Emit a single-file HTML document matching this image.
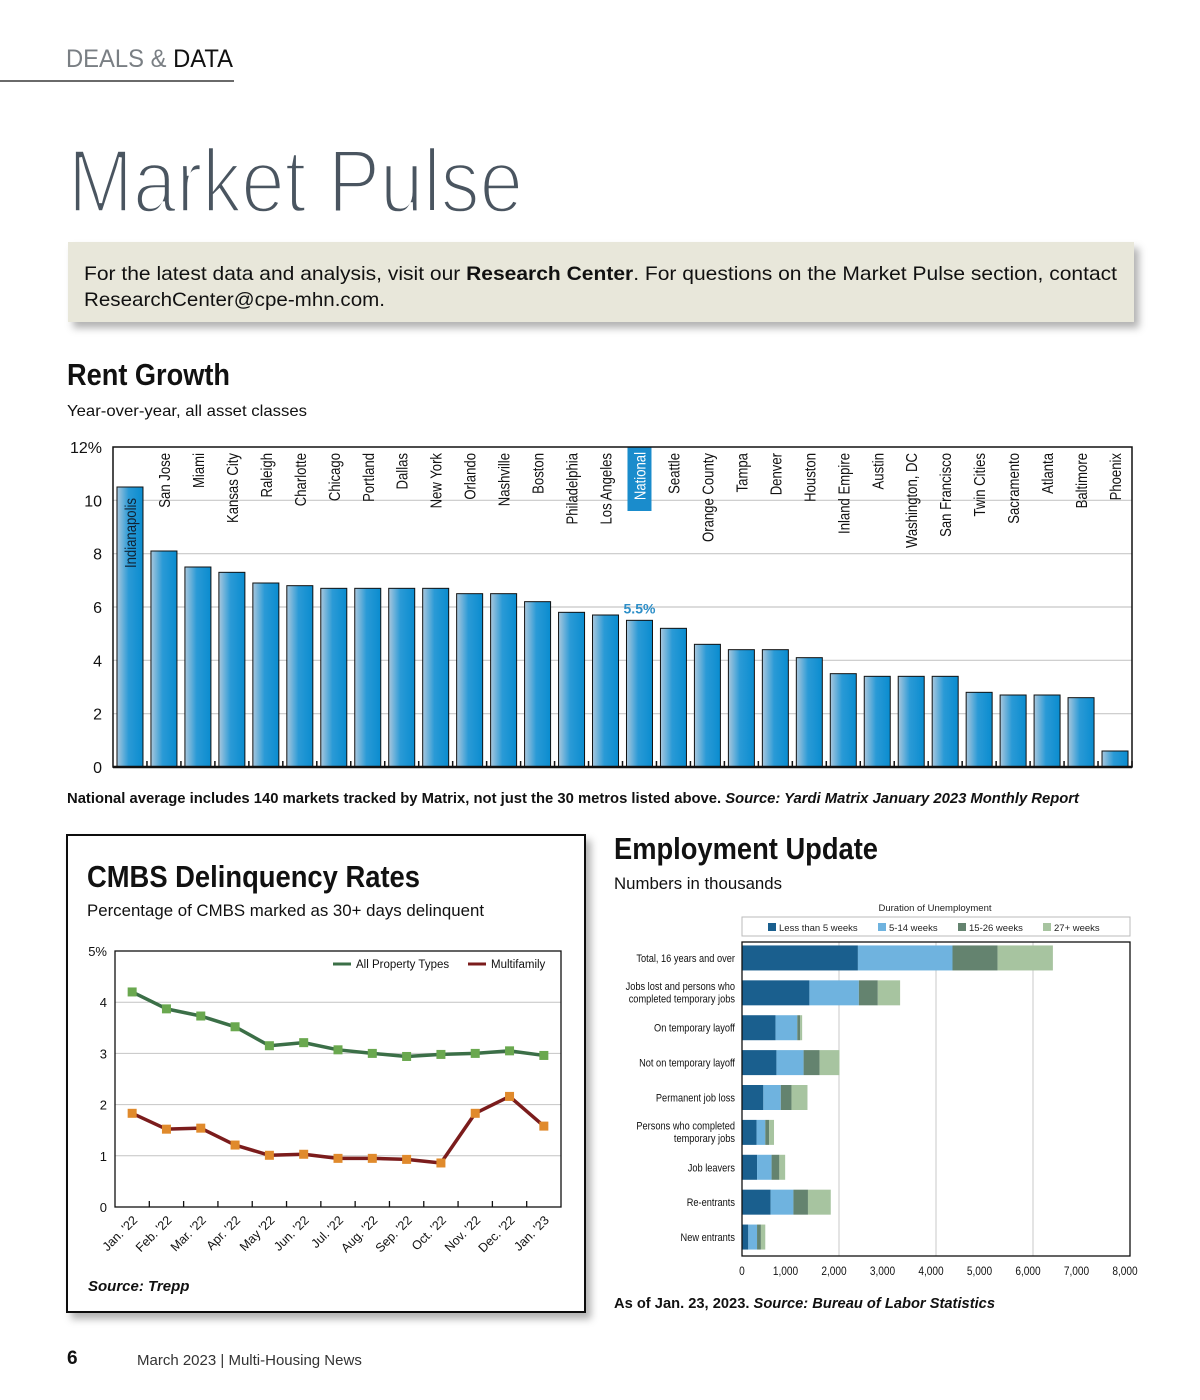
<!DOCTYPE html>
<html><head><meta charset="utf-8"><style>
html,body{margin:0;padding:0;background:#fff;width:1200px;height:1400px;overflow:hidden}
svg{display:block;font-family:"Liberation Sans",sans-serif}
</style></head><body>
<svg id="page" width="1200" height="1400" viewBox="0 0 1200 1400" xmlns="http://www.w3.org/2000/svg">
<defs>
<linearGradient id="barg" x1="0" x2="1" y1="0" y2="0">
<stop offset="0" stop-color="#a9c7dd"/><stop offset="0.45" stop-color="#2a9ad6"/><stop offset="1" stop-color="#0a8ccf"/>
</linearGradient>
<filter id="sh" x="-5%" y="-5%" width="115%" height="130%"><feDropShadow dx="5" dy="6" stdDeviation="4" flood-color="#000" flood-opacity="0.3"/></filter>
</defs>

<text x="66" y="67" font-size="25" fill="#7a7f84" textLength="167" lengthAdjust="spacingAndGlyphs">DEALS &amp; <tspan fill="#111">DATA</tspan></text>
<line x1="0" y1="81" x2="234" y2="81" stroke="#111" stroke-width="1.2"/>
<text x="68" y="212" font-size="90" fill="#4a5560" stroke="#fff" stroke-width="3.4" textLength="455" lengthAdjust="spacingAndGlyphs">Market Pulse</text>

<rect x="68" y="242" width="1066" height="80" fill="#e8e7da" filter="url(#sh)"/>
<text x="84" y="280" font-size="19.5" fill="#111" textLength="1033" lengthAdjust="spacingAndGlyphs">For the latest data and analysis, visit our <tspan font-weight="bold">Research Center</tspan>. For questions on the Market Pulse section, contact</text>
<text x="84" y="306" font-size="19.5" fill="#111" textLength="301" lengthAdjust="spacingAndGlyphs">ResearchCenter@cpe-mhn.com.</text>

<text x="67" y="385" font-size="31" font-weight="bold" fill="#111" textLength="163" lengthAdjust="spacingAndGlyphs">Rent Growth</text>
<text x="67" y="416" font-size="16" fill="#111" textLength="240" lengthAdjust="spacingAndGlyphs">Year-over-year, all asset classes</text>
<g id="rent"></g>
<text x="67" y="803" font-size="14.3" font-weight="bold" fill="#111" textLength="1012" lengthAdjust="spacingAndGlyphs">National average includes 140 markets tracked by Matrix, not just the 30 metros listed above. <tspan font-style="italic">Source: Yardi Matrix January 2023 Monthly Report</tspan></text>

<rect x="67" y="835" width="518" height="477" fill="#fff" stroke="#111" stroke-width="2" filter="url(#sh)"/>
<text x="87" y="887" font-size="31" font-weight="bold" fill="#111" textLength="333" lengthAdjust="spacingAndGlyphs">CMBS Delinquency Rates</text>
<text x="87" y="916" font-size="16.5" fill="#111" textLength="397" lengthAdjust="spacingAndGlyphs">Percentage of CMBS marked as 30+ days delinquent</text>
<g id="cmbs"></g>
<text x="88" y="1291" font-size="15" font-weight="bold" font-style="italic" fill="#111">Source: Trepp</text>

<text x="614" y="859" font-size="31" font-weight="bold" fill="#111" textLength="264" lengthAdjust="spacingAndGlyphs">Employment Update</text>
<text x="614" y="889" font-size="16.5" fill="#111" textLength="168" lengthAdjust="spacingAndGlyphs">Numbers in thousands</text>
<g id="emp"></g>
<text x="614" y="1308" font-size="14.5" font-weight="bold" fill="#111" textLength="381" lengthAdjust="spacingAndGlyphs">As of Jan. 23, 2023. <tspan font-style="italic">Source: Bureau of Labor Statistics</tspan></text>

<text x="67" y="1364" font-size="19" font-weight="bold" fill="#111">6</text>
<text x="137" y="1365" font-size="15" fill="#333">March 2023  |  Multi-Housing News</text>
</svg>
<script>
const NS='http://www.w3.org/2000/svg';
function mk(parent,tag,attrs,txt){const e=document.createElementNS(NS,tag);for(const k in attrs)e.setAttribute(k,attrs[k]);if(txt!==undefined)e.textContent=txt;parent.appendChild(e);return e;}
function condense(t,f){try{const L=t.getComputedTextLength();if(L>0){t.setAttribute('textLength',L*f);t.setAttribute('lengthAdjust','spacingAndGlyphs');}}catch(e){}}

// ---------- Rent growth data ----------
const rentCities=["Indianapolis","San Jose","Miami","Kansas City","Raleigh","Charlotte","Chicago","Portland","Dallas","New York","Orlando","Nashville","Boston","Philadelphia","Los Angeles","National","Seattle","Orange County","Tampa","Denver","Houston","Inland Empire","Austin","Washington, DC","San Francisco","Twin Cities","Sacramento","Atlanta","Baltimore","Phoenix"];
const rentValues=[10.5,8.1,7.5,7.3,6.9,6.8,6.7,6.7,6.7,6.7,6.5,6.5,6.2,5.8,5.7,5.5,5.2,4.6,4.4,4.4,4.1,3.5,3.4,3.4,3.4,2.8,2.7,2.7,2.6,0.6];
const rentTicks=[0,2,4,6,8,10,12];
const rentTickLabels=["0","2","4","6","8","10","12%"];

const R={l:113,r:1132,t:447,b:767,max:12};
const ry=v=>R.b-(v/R.max)*(R.b-R.t);
const rstep=(R.r-R.l)/rentCities.length;
const rx=i=>R.l+rstep*(i+0.5);
const rg=document.getElementById('rent');
rentTicks.forEach((t,i)=>{
  if(t>0&&t<12){const g=mk(rg,'line',{x1:R.l,x2:R.r,y1:ry(t),y2:ry(t),stroke:'#c8c8c8','stroke-width':1.2});
  
  }
  const tl=mk(rg,'text',{x:102,y:ry(t)+6,'font-size':16,'text-anchor':'end',fill:'#111'},rentTickLabels[i]);
  
  
});
rentValues.forEach((v,i)=>{
  const cx=rx(i),w=26,x=cx-w/2,y=ry(v);
  const b=mk(rg,'rect',{x:x,y:y,width:w,height:R.b-y,fill:'url(#barg)',stroke:'#111','stroke-width':1});
  
  
  const tk=mk(rg,'line',{x1:R.l+rstep*(i+1),x2:R.l+rstep*(i+1),y1:R.b,y2:R.b-6,stroke:'#111','stroke-width':1.5});
  
  
  const name=rentCities[i];
  let ty=453, fill='#111';
  if(i===0){ty=y+11;fill='#123';}
  if(name==='National'){
    const bx=mk(rg,'rect',{x:cx-12,y:R.t,width:24,height:64,fill:'#1a8ccc'});
    
    
    fill='#fff';ty=452;
    const vl=mk(rg,'text',{x:cx,y:y-7,'font-size':14,'font-weight':'bold','text-anchor':'middle',fill:'#2e8fc8'},v+'%');
    
    
  }
  const lt=mk(rg,'text',{x:cx+6,y:ty,'font-size':16,'text-anchor':'end',fill:fill,transform:`rotate(-90 ${cx+6} ${ty})`},name);
  
  
  condense(lt,0.82);
});
const rf=mk(rg,'path',{d:`M${R.l},${R.t}H${R.r}V${R.b}H${R.l}Z`,fill:'none',stroke:'#111','stroke-width':1.5});


const rb=mk(rg,'line',{x1:R.l,x2:R.r,y1:R.b,y2:R.b,stroke:'#111','stroke-width':2.5});



// ---------- CMBS data ----------
const cmbsMonths=["Jan. '22","Feb. '22","Mar. '22","Apr. '22","May '22","Jun. '22","Jul. '22","Aug. '22","Sep. '22","Oct. '22","Nov. '22","Dec. '22","Jan. '23"];
const cmbsAll=[4.2,3.87,3.73,3.52,3.15,3.21,3.07,3.0,2.94,2.98,3.0,3.05,2.96];
const cmbsMulti=[1.83,1.52,1.54,1.21,1.01,1.03,0.95,0.95,0.93,0.86,1.83,2.16,1.58];
const cmbsTicks=[0,1,2,3,4,5];
const cmbsTickLabels=["0","1","2","3","4","5%"];
const C={l:115,r:561,t:951,b:1207,max:5};
const cy=v=>C.b-(v/C.max)*(C.b-C.t);
const cstep=(C.r-C.l)/cmbsMonths.length;
const cx_=i=>C.l+cstep*(i+0.5);
const cg=document.getElementById('cmbs');
cmbsTicks.forEach((t,i)=>{
  if(t>0&&t<5){const g=mk(cg,'line',{x1:C.l,x2:C.r,y1:cy(t),y2:cy(t),stroke:'#c4c4c4','stroke-width':1});
  
  }
  const tl=mk(cg,'text',{x:107,y:cy(t)+5,'font-size':13,'text-anchor':'end',fill:'#111'},cmbsTickLabels[i]);
  
  
});
const cf=mk(cg,'rect',{x:C.l,y:C.t,width:C.r-C.l,height:C.b-C.t,fill:'none',stroke:'#111','stroke-width':1.3});


cmbsMonths.forEach((m,i)=>{
  if(i>0){const tk=mk(cg,'line',{x1:C.l+cstep*i,x2:C.l+cstep*i,y1:C.b,y2:C.b-6,stroke:'#111','stroke-width':1.3});
  
  }
  const x=cx_(i)+6,y=C.b+14;
  const t=mk(cg,'text',{x:x,y:y,'font-size':12.5,'text-anchor':'end',fill:'#111',transform:`rotate(-45 ${x} ${y})`},m);
  
  
});
function series(vals,lineC,markC,name){
  const p=mk(cg,'polyline',{points:vals.map((v,i)=>cx_(i)+','+cy(v)).join(' '),fill:'none',stroke:lineC,'stroke-width':3.5,'stroke-linejoin':'round'});
  
  
  vals.forEach((v,i)=>{const r=mk(cg,'rect',{x:cx_(i)-4.5,y:cy(v)-4.5,width:9,height:9,fill:markC});
    
    });
}
series(cmbsAll,'#3b6f47','#6aa84f','all-property-types');
series(cmbsMulti,'#7b1c1c','#e08a2c','multifamily');
[[333,'#3b6f47','All Property Types','legend-all-property-types'],[468,'#7b1c1c','Multifamily','legend-multifamily']].forEach(([x,c,l,n])=>{
  const g=mk(cg,'g',{});
  
  
  mk(g,'line',{x1:x,x2:x+18,y1:964,y2:964,stroke:c,'stroke-width':3});
  mk(g,'text',{x:x+23,y:968,'font-size':11.5,fill:'#111'},l);
});

// ---------- Employment data ----------
const empCats=[["Total, 16 years and over"],["Jobs lost and persons who","completed temporary jobs"],["On temporary layoff"],["Not on temporary layoff"],["Permanent job loss"],["Persons who completed","temporary jobs"],["Job leavers"],["Re-entrants"],["New entrants"]];
const empLess5=[2390,1390,690,710,440,300,310,590,130];
const emp5to14=[1950,1020,450,560,360,180,300,470,180];
const emp15to26=[930,390,60,330,220,80,160,300,80];
const emp27plus=[1140,460,40,410,330,100,120,470,90];
const empTicks=[0,1000,2000,3000,4000,5000,6000,7000,8000];
const empTickLabels=["0","1,000","2,000","3,000","4,000","5,000","6,000","7,000","8,000"];
const empSeriesNames=["Less than 5 weeks","5-14 weeks","15-26 weeks","27+ weeks"];
const empColors=['#1a5f8e','#6fb3df','#64836f','#a7c4a0'];
const E={l:742,r:1130,t:942,b:1256,max:8000};
const ex=v=>E.l+(v/E.max)*(E.r-E.l);
const eg=document.getElementById('emp');
const et=mk(eg,'text',{x:935,y:911,'font-size':9.5,'text-anchor':'middle',fill:'#222'},'Duration of Unemployment');


const lb=mk(eg,'rect',{x:742,y:917,width:388,height:19,fill:'#fff',stroke:'#bbb','stroke-width':1});


const legX=[768,878,958,1043];
empSeriesNames.forEach((n,i)=>{
  const g=mk(eg,'g',{});
  
  
  mk(g,'rect',{x:legX[i],y:923,width:8,height:8,fill:empColors[i]});
  mk(g,'text',{x:legX[i]+11,y:931,'font-size':9.5,fill:'#222'},n);
});
empTicks.forEach((t,i)=>{
  if(t>0&&t<8000&&t%2000===0){const g=mk(eg,'line',{x1:ex(t),x2:ex(t),y1:E.t,y2:E.b,stroke:'#c8c8c8','stroke-width':1});
  
  }
  const tl=mk(eg,'text',{x:ex(t)-(i===0?0:5),y:1275,'font-size':11.5,'text-anchor':'middle',fill:'#111'},empTickLabels[i]);
  
  
  condense(tl,0.88);
});
const eRows=empCats.length, eStep=(E.b-E.t)/eRows;
const allSeries=[empLess5,emp5to14,emp15to26,emp27plus];
empCats.forEach((c,i)=>{
  const ycen=E.t+eStep*(i+0.5)-1.5;
  let acc=0;
  allSeries.forEach((s,k)=>{
    const r=mk(eg,'rect',{x:ex(acc),y:ycen-12.5,width:ex(acc+s[i])-ex(acc),height:25,fill:empColors[k]});
    
    
    acc+=s[i];
  });
  c.forEach((line,j)=>{
    const y=c.length>1?ycen-3+j*12.5:ycen+4;
    const lt=mk(eg,'text',{x:735,y:y,'font-size':11,'text-anchor':'end',fill:'#111'},line);
    
    
    condense(lt,0.84);
  });
});
const ef=mk(eg,'rect',{x:E.l,y:E.t,width:E.r-E.l,height:E.b-E.t,fill:'none',stroke:'#111','stroke-width':1.3});


</script>
</body></html>
